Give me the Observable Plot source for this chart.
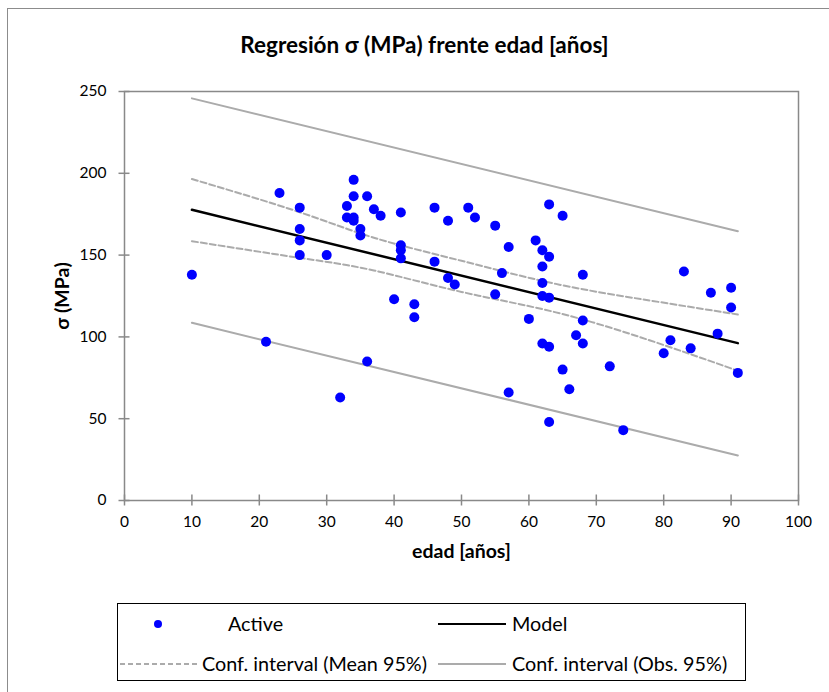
<!DOCTYPE html>
<html><head><meta charset="utf-8">
<script src="https://cdn.jsdelivr.net/npm/d3@7"></script>
<script src="https://cdn.jsdelivr.net/npm/@observablehq/plot@0.6"></script>
<style>
body{margin:0;background:#fff;font-family:Lato,"Open Sans",sans-serif;}
#wrap{position:relative;width:829px;height:692px;overflow:hidden;background:#fff}
#outer{position:absolute;left:7px;top:8px;width:840px;height:720px;border:1px solid #8c8c8c;box-sizing:border-box}
#title{position:absolute;left:7px;width:835px;top:32px;text-align:center;font-weight:bold;font-size:22.5px;line-height:26px;color:#000}
#chart{position:absolute;left:0;top:0}
#legend{position:absolute;left:117px;top:603px;width:629px;height:78px;border:1.5px solid #000;box-sizing:border-box}
.lg{position:absolute;font-size:19.8px;line-height:22px;white-space:nowrap;color:#000}
.sw{position:absolute}
</style></head>
<body>
<div id="wrap">
  <div id="outer"></div>
  <div id="title"></div>
  <div id="chart"></div>
  <div id="legend"></div>
</div>
<script>
// ---- data ----
const titleText = "Regresión σ (MPa) frente edad [años]";
const xLabel = "edad [años]";
const yLabel = "σ (MPa)";
const xTicks = [0, 10, 20, 30, 40, 50, 60, 70, 80, 90, 100];
const yTicks = [0, 50, 100, 150, 200, 250];

const ages  = [10, 21, 23, 26, 26, 26, 26, 30, 32, 33, 33, 34, 34, 34, 34, 35, 35, 36, 36, 37,
               38, 40, 41, 41, 41, 41, 43, 43, 46, 46, 48, 48, 49, 51, 52, 55, 55, 56, 57, 57,
               60, 61, 62, 62, 62, 62, 62, 63, 63, 63, 63, 63, 65, 65, 66, 67, 68, 68, 68, 72,
               74, 80, 81, 83, 84, 87, 88, 90, 90, 91];
const sigma = [138, 97, 188, 179, 166, 159, 150, 150, 63, 180, 173, 196, 186, 173, 171, 166, 162, 186, 85, 178,
               174, 123, 176, 156, 153, 148, 120, 112, 179, 146, 171, 136, 132, 179, 173, 168, 126, 139, 155, 66,
               111, 159, 153, 143, 133, 125, 96, 181, 149, 124, 94, 48, 174, 80, 68, 101, 138, 110, 96, 82,
               43, 90, 98, 140, 93, 127, 102, 130, 118, 78];

const modelX = [10, 91];
const modelY = [177.7, 96.2];

const meanX     = [10, 26, 37, 50, 64, 78, 91];
const meanUpper = [196.5, 176.2, 160.6, 146.5, 132.4, 122.2, 113.7];
const meanLower = [158.5, 148.3, 140.6, 127.5, 115.0, 97.8, 79.3];

const obsX     = [10, 91];
const obsUpper = [245.8, 164.6];
const obsLower = [108.6, 27.5];

const legendItems = ["Active", "Model", "Conf. interval (Mean 95%)", "Conf. interval (Obs. 95%)"];

// ---- build ----
const pts = ages.map((a, i) => ({x: a, y: sigma[i]}));
const model = modelX.map((x, i) => ({x, y: modelY[i]}));
const mUp = meanX.map((x, i) => ({x, y: meanUpper[i]}));
const mLo = meanX.map((x, i) => ({x, y: meanLower[i]}));
const oUp = obsX.map((x, i) => ({x, y: obsUpper[i]}));
const oLo = obsX.map((x, i) => ({x, y: obsLower[i]}));

const axisColor = "#898989";
const grayLine = "#ababab";

const chart = Plot.plot({
  width: 829, height: 570,
  marginLeft: 124, marginRight: 31, marginTop: 91, marginBottom: 70,
  style: {fontFamily: "Lato, 'Open Sans', sans-serif", fontSize: "15.5px", color: "#000", background: "transparent"},
  x: {domain: [0, 100]},
  y: {domain: [0, 250]},
  marks: [
    Plot.frame({stroke: axisColor, strokeWidth: 1.5}),
    Plot.axisX(xTicks, {tickSize: 11, dy: -5.5, text: null, stroke: axisColor, strokeWidth: 1.5, label: null}),
    Plot.axisX(xTicks, {tickSize: 0, tickPadding: 15, label: null, fill: "#000"}),
    Plot.axisY(yTicks, {tickSize: 11, dx: 5.5, text: null, stroke: axisColor, strokeWidth: 1.5, label: null}),
    Plot.axisY(yTicks, {tickSize: 0, tickPadding: 18, label: null, fill: "#000"}),
    Plot.line(oUp, {x: "x", y: "y", stroke: grayLine, strokeWidth: 2}),
    Plot.line(oLo, {x: "x", y: "y", stroke: grayLine, strokeWidth: 2}),
    Plot.line(mUp, {x: "x", y: "y", stroke: grayLine, strokeWidth: 2, strokeDasharray: "6,3", curve: "natural"}),
    Plot.line(mLo, {x: "x", y: "y", stroke: grayLine, strokeWidth: 2, strokeDasharray: "6,3", curve: "natural"}),
    Plot.line(model, {x: "x", y: "y", stroke: "#000", strokeWidth: 2.5}),
    Plot.dot(pts, {x: "x", y: "y", r: 5, fill: "#0000ff", stroke: "none"}),
    Plot.text([xLabel], {frameAnchor: "bottom", dy: 57, fontWeight: "bold", fontSize: 19.5, fill: "#000"}),
    Plot.text([yLabel], {frameAnchor: "left", textAnchor: "middle", dx: -62, rotate: -90, fontWeight: "bold", fontSize: 19.5, fill: "#000"})
  ]
});
document.getElementById("chart").appendChild(chart);
document.getElementById("title").textContent = titleText;

// ---- legend ----
const lg = document.getElementById("legend");
function addText(t, left, top) {
  const d = document.createElement("div");
  d.className = "lg"; d.textContent = t;
  d.style.left = left + "px"; d.style.top = top + "px";
  lg.appendChild(d);
}
function addSwatch(left, top, inner) {
  const s = document.createElementNS("http://www.w3.org/2000/svg", "svg");
  s.setAttribute("class", "sw");
  s.setAttribute("width", 80); s.setAttribute("height", 12);
  s.style.left = left + "px"; s.style.top = top + "px";
  s.innerHTML = inner;
  lg.appendChild(s);
}
addSwatch(0, 14, `<circle cx="40" cy="6" r="4" fill="#0000ff"/>`);
addText(legendItems[0], 110, 8);
addSwatch(320, 14, `<line x1="0" y1="6" x2="68" y2="6" stroke="#000" stroke-width="2"/>`);
addText(legendItems[1], 394, 8);
addSwatch(2, 54, `<line x1="0" y1="6" x2="78" y2="6" stroke="${grayLine}" stroke-width="2" stroke-dasharray="5,3"/>`);
addText(legendItems[2], 84, 48);
addSwatch(320, 54, `<line x1="0" y1="6" x2="68" y2="6" stroke="${grayLine}" stroke-width="2"/>`);
addText(legendItems[3], 394, 48);
</script>
</body></html>
